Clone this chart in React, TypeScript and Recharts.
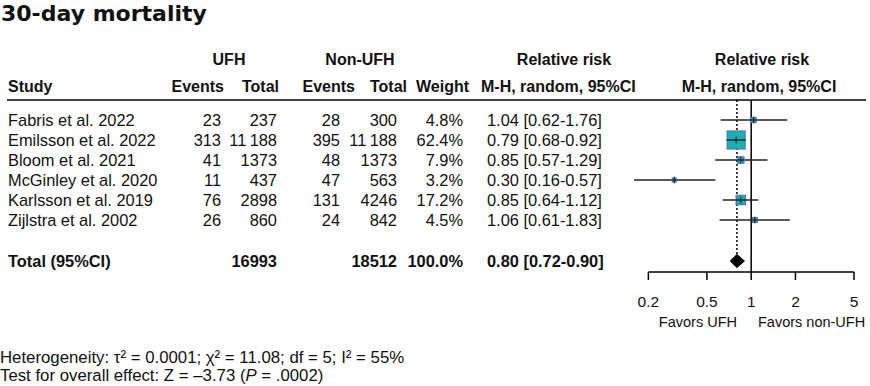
import React from 'react';
import { ComposedChart, Scatter, XAxis, YAxis, ReferenceLine, ErrorBar } from 'recharts';

// ---------- data ----------
const studies = [
  'Fabris et al. 2022',
  'Emilsson et al. 2022',
  'Bloom et al. 2021',
  'McGinley et al. 2020',
  'Karlsson et al. 2019',
  'Zijlstra et al. 2002',
];
const ufhEvents = [23, 313, 41, 11, 76, 26];
const ufhTotal = [237, 11188, 1373, 437, 2898, 860];
const nonEvents = [28, 395, 48, 47, 131, 24];
const nonTotal = [300, 11188, 1373, 563, 4246, 842];
const weights = [4.8, 62.4, 7.9, 3.2, 17.2, 4.5];
const rrValues = [1.04, 0.79, 0.85, 0.3, 0.85, 1.06];
const rrLow = [0.62, 0.68, 0.57, 0.16, 0.64, 0.61];
const rrHigh = [1.76, 0.92, 1.29, 0.57, 1.12, 1.83];

const pooledRR = 0.8;
const pooledLow = 0.72;
const pooledHigh = 0.9;
const totalUfh = 16993;
const totalNon = 18512;
const totalWeight = 100.0;

const xTicks = [0.2, 0.5, 1, 2, 5];

// ---------- layout ----------
const W = 870;
const H = 386;
const TOTAL_ROW = 7.05;
const FONT = '"Liberation Sans", Arial, Helvetica, sans-serif';
const TEXT = '#111';
const ROW_FS = 16.4;

const fmtN = (n: number) => (n >= 10000 ? String(n).replace(/(\d+)(\d{3})$/, '$1\u2009$2') : String(n));
const fmtTot = (n: number) => String(n);
const fmtCI = (r: number, l: number, h: number) => `${r.toFixed(2)} [${l.toFixed(2)}-${h.toFixed(2)}]`;

const rows = studies.map((name, i) => ({
  row: i,
  name,
  rr: rrValues[i],
  err: [rrValues[i] - rrLow[i], rrHigh[i] - rrValues[i]],
  weight: weights[i],
  ue: String(ufhEvents[i]),
  ut: fmtN(ufhTotal[i]),
  ne: String(nonEvents[i]),
  nt: fmtN(nonTotal[i]),
  w: `${weights[i].toFixed(1)}%`,
  ci: fmtCI(rrValues[i], rrLow[i], rrHigh[i]),
  total: false,
}));

const totalRow = [
  {
    row: TOTAL_ROW,
    name: 'Total (95%CI)',
    rr: pooledRR,
    ue: '',
    ut: fmtTot(totalUfh),
    ne: '',
    nt: fmtTot(totalNon),
    w: `${totalWeight.toFixed(1)}%`,
    ci: fmtCI(pooledRR, pooledLow, pooledHigh),
    total: true,
  },
];

const diamond = [
  { rr: pooledLow, row: TOTAL_ROW },
  { rr: pooledRR, row: TOTAL_ROW - 0.33 },
  { rr: pooledHigh, row: TOTAL_ROW },
  { rr: pooledRR, row: TOTAL_ROW + 0.33 },
];

// ---------- shapes ----------
const TableText = (props: any) => {
  const { cy, payload } = props;
  if (cy == null || !payload) return <g />;
  const fw = payload.total ? 'bold' : 'normal';
  const common = { y: cy, dy: '0.36em', fontSize: ROW_FS, fill: TEXT, fontWeight: fw, fontFamily: FONT } as any;
  return (
    <g>
      <text {...common} x={8}>{payload.name}</text>
      <text {...common} x={221} textAnchor="end">{payload.ue}</text>
      <text {...common} x={277} textAnchor="end">{payload.ut}</text>
      <text {...common} x={340} textAnchor="end">{payload.ne}</text>
      <text {...common} x={397} textAnchor="end">{payload.nt}</text>
      <text {...common} x={463} textAnchor="end">{payload.w}</text>
      <text {...common} x={487}>{payload.ci}</text>
    </g>
  );
};

const SquareMarker = (props: any) => {
  const { cx, cy, payload } = props;
  if (cx == null || cy == null) return <g />;
  const side = 2.3 * Math.sqrt(payload.weight);
  return (
    <g>
      <rect x={cx - side / 2} y={cy - side / 2} width={side} height={side} fill="#17b1b4" stroke="#5b6cb4" strokeWidth={1} />
      <line x1={cx - side / 2} x2={cx + side / 2} y1={cy} y2={cy} stroke="#222" strokeWidth={1.5} />
      <line x1={cx} x2={cx} y1={cy - 3.5} y2={cy + 3.5} stroke="#222" strokeWidth={1} />
    </g>
  );
};

const DiamondLine = (props: any) => {
  const pts = (props.points || []).map((p: any) => `${p.x},${p.y}`).join(' ');
  return <polygon points={pts} fill="#000" stroke="#000" strokeWidth={1} />;
};

const Empty = () => <g />;

// ---------- app ----------
export default function App() {
  return (
    <div style={{ position: 'absolute', left: 0, top: 0, width: W, height: H, fontFamily: FONT, background: '#fff' }}>
      <ComposedChart width={W} height={H} margin={{ top: 100, right: 16, bottom: 84, left: 630 }}>
        <XAxis
          type="number"
          dataKey="rr"
          scale="log"
          domain={[0.15, 5]}
          ticks={xTicks}
          interval={0}
          axisLine={false}
          tickLine={{ stroke: '#000', strokeWidth: 1.5 }}
          tickSize={8}
          tickMargin={16}
          height={30}
          tick={{ fill: TEXT, fontSize: 15.5, fontFamily: FONT }}
          tickFormatter={(v: number) => String(v)}
        />
        <YAxis type="number" dataKey="row" domain={[-1, 7.6]} reversed hide />
        <ReferenceLine
          segment={[{ x: 0.2, y: 7.6 }, { x: 5, y: 7.6 }]}
          stroke="#000"
          strokeWidth={1.5}
          ifOverflow="visible"
        />
        <ReferenceLine x={1} stroke="#000" strokeWidth={1.5} />
        <ReferenceLine
          segment={[{ x: pooledRR, y: -1 }, { x: pooledRR, y: TOTAL_ROW - 0.3 }]}
          stroke="#000"
          strokeWidth={1.5}
          strokeDasharray="2 2"
        />
        <Scatter data={rows} shape={TableText} isAnimationActive={false} />
        <Scatter data={totalRow} shape={TableText} isAnimationActive={false} />
        <Scatter data={rows} shape={SquareMarker} isAnimationActive={false}>
          <ErrorBar dataKey="err" direction="x" width={0} stroke="#222" strokeWidth={1.5} />
        </Scatter>
        <Scatter data={diamond} shape={Empty} line={DiamondLine} isAnimationActive={false} />
      </ComposedChart>
      <svg width={W} height={H} style={{ position: 'absolute', left: 0, top: 0, pointerEvents: 'none' }}>
        <text x={1} y={21} fontFamily='"DejaVu Sans", sans-serif' fontWeight="bold" fontSize={22} fill={TEXT}>
          30-day mortality
        </text>
        <g fontFamily={FONT} fontWeight="bold" fontSize={16} fill={TEXT}>
          <text x={229} y={59} dy="0.36em" textAnchor="middle">UFH</text>
          <text x={360} y={59} dy="0.36em" textAnchor="middle">Non-UFH</text>
          <text x={564} y={59} dy="0.36em" textAnchor="middle">Relative risk</text>
          <text x={762} y={59} dy="0.36em" textAnchor="middle">Relative risk</text>
          <text x={8} y={86} dy="0.36em">Study</text>
          <text x={224} y={86} dy="0.36em" textAnchor="end">Events</text>
          <text x={279} y={86} dy="0.36em" textAnchor="end">Total</text>
          <text x={355} y={86} dy="0.36em" textAnchor="end">Events</text>
          <text x={407} y={86} dy="0.36em" textAnchor="end">Total</text>
          <text x={469} y={86} dy="0.36em" textAnchor="end">Weight</text>
          <text x={481} y={86} dy="0.36em">M-H, random, 95%CI</text>
          <text x={759} y={86} dy="0.36em" textAnchor="middle">M-H, random, 95%CI</text>
        </g>
        <line x1={7} x2={866} y1={100} y2={100} stroke="#000" strokeWidth={1.5} />
        <g fontFamily={FONT} fontSize={14.5} fill={TEXT}>
          <text x={737} y={322} dy="0.36em" textAnchor="end">Favors UFH</text>
          <text x={758} y={322} dy="0.36em">Favors non-UFH</text>
        </g>
        <g fontFamily={FONT} fontSize={16.8} fill={TEXT}>
          <text x={0} y={357} dy="0.36em">Heterogeneity: τ² = 0.0001; χ² = 11.08; df = 5; I² = 55%</text>
          <text x={0} y={375} dy="0.36em">
            Test for overall effect: Z = –3.73 (<tspan fontStyle="italic">P</tspan> = .0002)
          </text>
        </g>
      </svg>
    </div>
  );
}
